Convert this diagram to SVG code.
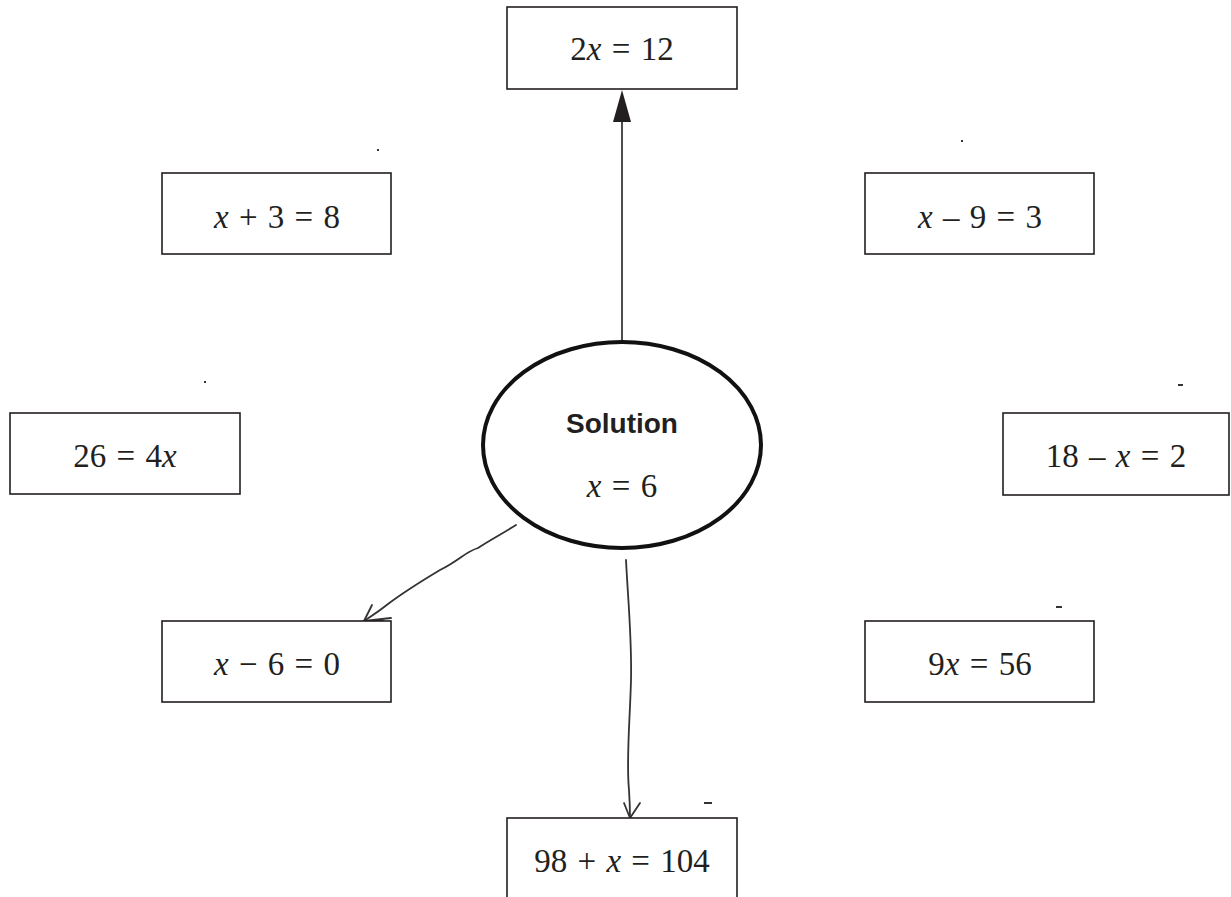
<svg xmlns="http://www.w3.org/2000/svg" width="1231" height="897" viewBox="0 0 1231 897">
<style>
.box{fill:#fff;stroke:#231f20;stroke-width:1.6}
.t{font-family:"Liberation Serif","Times New Roman",serif;font-size:33px;fill:#231f20;text-anchor:middle;word-spacing:2px}
.i{font-style:italic}
.hand{fill:none;stroke:#333;stroke-width:1.8;stroke-linecap:round;stroke-linejoin:round}
</style>
<rect width="1231" height="897" fill="#fff"/>
<g id="connectors">
<line x1="622" y1="352" x2="622" y2="121" stroke="#231f20" stroke-width="1.6"/>
<path d="M622,90 L613,122 L631,122 Z" fill="#231f20"/>
<path class="hand" d="M516,525 C500,535 490,540 478,548 C465,552 460,560 440,570 C420,582 400,595 388,604 C378,612 370,617 364,621"/>
<path class="hand" d="M364,621 L391,618 M364,621 L372,605 M364,621 L383,621"/>
<path class="hand" d="M626,560 C628,600 632,640 631,680 C630,720 626,760 629,790 C630,805 630,812 630,818"/>
<path class="hand" d="M630,818 L624,803 M630,818 L640,803"/>
</g>
<g id="node-2x12"><rect class="box" x="507" y="7" width="230" height="82"/><text class="t" x="622" y="60">2<tspan class="i">x</tspan> = 12</text></g>
<g id="node-x3"><rect class="box" x="162" y="173" width="229" height="81"/><text class="t" x="277" y="228"><tspan class="i">x</tspan> + 3 = 8</text></g>
<g id="node-x9"><rect class="box" x="865" y="173" width="229" height="81"/><text class="t" x="980" y="228"><tspan class="i">x</tspan> – 9 = 3</text></g>
<g id="node-26"><rect class="box" x="10" y="413" width="230" height="81"/><text class="t" x="125" y="467">26 = 4<tspan class="i">x</tspan></text></g>
<g id="node-18"><rect class="box" x="1003" y="413" width="226" height="82"/><text class="t" x="1116" y="467">18 – <tspan class="i">x</tspan> = 2</text></g>
<g id="node-x6"><rect class="box" x="162" y="621" width="229" height="81"/><text class="t" x="277" y="675"><tspan class="i">x</tspan> − 6 = 0</text></g>
<g id="node-9x"><rect class="box" x="865" y="621" width="229" height="81"/><text class="t" x="980" y="675">9<tspan class="i">x</tspan> = 56</text></g>
<g id="node-98"><rect class="box" x="507" y="818" width="230" height="90"/><text class="t" x="622" y="872">98 + <tspan class="i">x</tspan> = 104</text></g>
<g id="node-solution">
<ellipse cx="622" cy="445" rx="139" ry="103" fill="#fff" stroke="#111" stroke-width="4"/>
<text x="622" y="433" text-anchor="middle" font-family="Liberation Sans, Arial, sans-serif" font-weight="bold" font-size="28" fill="#231f20">Solution</text>
<text class="t" x="622" y="497"><tspan class="i">x</tspan> = 6</text>
</g>
<g id="specks" fill="#333">
<rect x="377" y="149" width="2" height="2"/>
<rect x="204" y="381" width="2" height="2"/>
<rect x="961" y="140" width="2" height="2"/>
<rect x="1178" y="384" width="5" height="2"/>
<rect x="1056" y="606" width="6" height="2"/>
<rect x="704" y="802" width="8" height="2"/>
</g>
</svg>
